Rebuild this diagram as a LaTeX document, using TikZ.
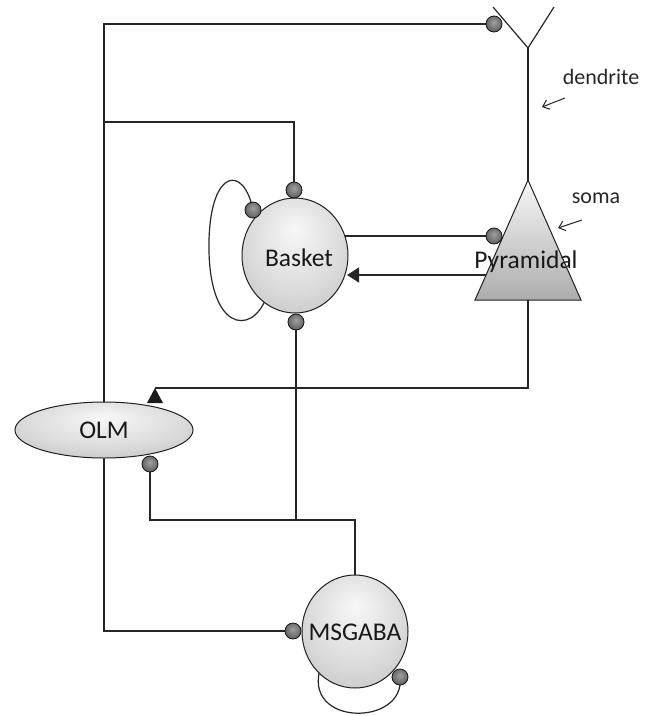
\documentclass[tikz,border=0pt]{standalone}
\usepackage{fontspec}
\setmainfont{Carlito}
\usetikzlibrary{shapes.geometric,arrows.meta,backgrounds}
\pgfdeclareradialshading{cellshade}{\pgfpoint{0bp}{12bp}}{color(0bp)=(gray!6); color(22bp)=(gray!28); color(50bp)=(gray!66)}
\pgfdeclareradialshading{synshade}{\pgfpoint{0bp}{6bp}}{color(0bp)=(gray!75); color(30bp)=(gray!70!black); color(50bp)=(gray!45!black)}

\begin{document}
\begin{tikzpicture}[x=1pt,y=-1pt,
  wire/.style={draw=gray!30!black, line width=1.2pt},
  celltext/.style={font=\fontsize{25.5}{30}\selectfont, text=black!90},
  cellbody/.style={ellipse, draw=gray!25!black, line width=1pt, shading=cellshade, inner sep=0pt, celltext},
  syn/.style={circle, minimum size=16pt, inner sep=0pt, draw=gray!15!black, line width=0.8pt, shading=synshade},
  lab/.style={font=\fontsize{22}{26}\selectfont, text=black!85},
  pointer/.style={draw=black!85, line width=1pt, -{Straight Barb[length=6pt,width=10pt]}},
  excmark/.style={fill=black!90}
]
\useasboundingbox (0,0) rectangle (654,716);

% cell bodies
\node[cellbody, minimum width=106pt, minimum height=115pt] (basket) at (295,255.5) {};
\node[celltext] (basketlab) at (299,258) {Basket};
\node[cellbody, minimum width=178pt, minimum height=56pt] (olm) at (104,430) {OLM};
\node[cellbody, minimum width=106pt, minimum height=113pt] (msgaba) at (355,631.5) {};
\node[celltext] (msgabalab) at (355,632) {MSGABA};

% pyramidal neuron
\coordinate (apex) at (528,180);
\coordinate (bl) at (475,300);
\coordinate (br) at (581,300);
\coordinate (fork) at (528,48);
\coordinate (dl) at (493,7);
\coordinate (dr) at (554,7);
\shade[top color=gray!6, bottom color=gray!65, draw=gray!25!black, line width=1pt] (apex) -- (bl) -- (br) -- cycle;
\node[celltext] (pyr) at (526,262) {Pyramidal};
\draw[wire] (dl) -- (fork) -- (dr);

% junction coordinates
\coordinate (j1) at (104,122);
\coordinate (j2) at (355,520);
\coordinate (olmTip) at (155,388);
\coordinate (pyrMid) at (528,275);
\coordinate (bArr) at (347,275);
\coordinate (mLoop) at (321,666);
\coordinate (bLoop) at (266,298);

% synapses
\node[syn] (sTop) at (494,24) {};
\node[syn] (sBtop) at (294,190) {};
\node[syn] (sBleft) at (253,210) {};
\node[syn] (sBbot) at (296,322) {};
\node[syn] (sPyr) at (494,236) {};
\node[syn] (sOLM) at (150,464) {};
\node[syn] (sMleft) at (293,631) {};
\node[syn] (sMself) at (400,677) {};

\begin{scope}[on background layer]
  \draw[wire] (sTop.center) -| (olm.center);
  \draw[wire] (j1) -| (sBtop.center);
  \draw[wire] (olm.center) |- (sMleft.center);
  \draw[wire] (sOLM.center) |- (j2) -- (msgaba.center);
  \draw[wire] (sBbot.center) -- (sBbot.center |- j2);
  \draw[wire] (basket.center |- sPyr) -- (sPyr.center);
  \draw[wire] (fork) |- (olmTip);
  \draw[wire, -{Triangle[length=12pt,width=15pt]}] (pyrMid) -- (bArr);
  \draw[wire] (sBleft.center) .. controls (244,165) and (211,168) .. (209,240)
              .. controls (207,332) and (252,336) .. (bLoop);
  \draw[wire] (mLoop) .. controls (300,727) and (406,727) .. (sMself.center);
\end{scope}

% excitatory mark on OLM
\fill[excmark] (olmTip) -- ++(-8,15) -- ++(16,0) -- cycle;

% labels
\node[lab] (dend) at (601,77) {dendrite};
\node[lab] (soma) at (596,198) {soma};
\coordinate (dA) at (565,98);
\coordinate (dB) at (542,107);
\coordinate (sA) at (582,220);
\coordinate (sB) at (558,228);
\draw[pointer] (dA) -- (dB);
\draw[pointer] (sA) -- (sB);
\end{tikzpicture}
\end{document}
